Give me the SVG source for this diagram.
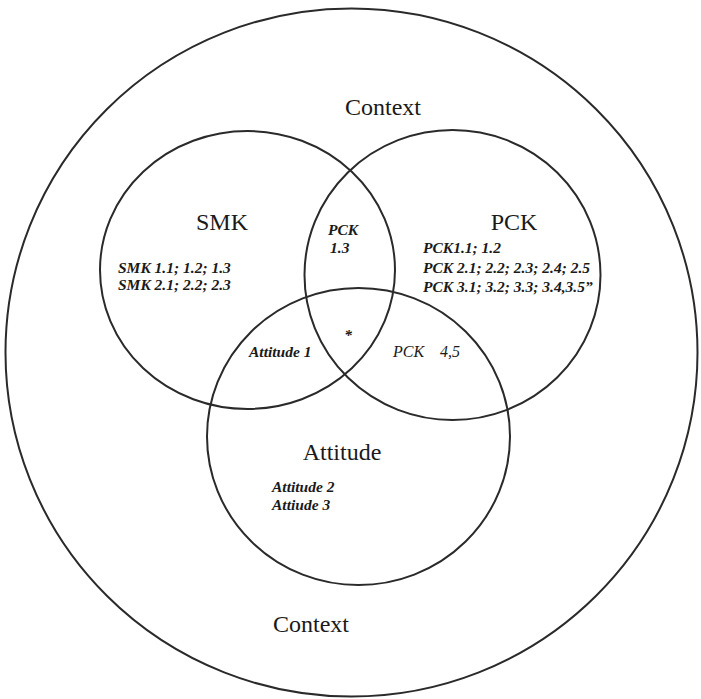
<svg xmlns="http://www.w3.org/2000/svg" width="701" height="699" viewBox="0 0 701 699">
<style>
.c{fill:none;stroke:#2a2a2a;stroke-width:2}
.t{font-family:"Liberation Serif",serif;font-size:24px;fill:#1a1a1a}
.s{font-family:"Liberation Serif",serif;font-size:15.5px;font-style:italic;font-weight:bold;fill:#1a1a1a}
.r{font-family:"Liberation Serif",serif;font-size:16px;font-style:italic;fill:#1a1a1a}
</style>
<rect width="701" height="699" fill="#fff"/>
<g id="context">
<ellipse class="c" cx="351.5" cy="352.5" rx="346" ry="344" stroke-width="1.6"/>
<text class="t" x="383" y="115" text-anchor="middle">Context</text>
<text class="t" x="311" y="632" text-anchor="middle">Context</text>
</g>
<g id="smk">
<ellipse class="c" cx="247.5" cy="270" rx="147.5" ry="139"/>
<text class="t" x="222" y="230" text-anchor="middle">SMK</text>
<text class="s" x="118" y="273">SMK 1.1; 1.2; 1.3</text>
<text class="s" x="118" y="290">SMK 2.1; 2.2; 2.3</text>
</g>
<g id="pck">
<ellipse class="c" cx="452.5" cy="275" rx="148" ry="145"/>
<text class="t" x="514" y="230" text-anchor="middle">PCK</text>
<text class="s" x="423" y="253">PCK1.1; 1.2</text>
<text class="s" x="423" y="273">PCK 2.1; 2.2; 2.3; 2.4; 2.5</text>
<text class="s" x="423" y="292">PCK 3.1; 3.2; 3.3; 3.4,3.5”</text>
</g>
<g id="attitude">
<ellipse class="c" cx="358.5" cy="436.5" rx="151.5" ry="148.5"/>
<text class="t" x="342" y="460" text-anchor="middle">Attitude</text>
<text class="s" x="272" y="492">Attitude 2</text>
<text class="s" x="272" y="510">Attiude 3</text>
</g>
<g id="overlaps">
<text class="s" x="328" y="235">PCK</text>
<text class="s" x="330" y="253">1.3</text>
<text class="s" x="348" y="340" text-anchor="middle">*</text>
<text class="s" x="249" y="357">Attitude 1</text>
<text class="r" x="393" y="357">PCK<tspan x="440">4,5</tspan></text>
</g>
<g id="connectors"/>
</svg>
